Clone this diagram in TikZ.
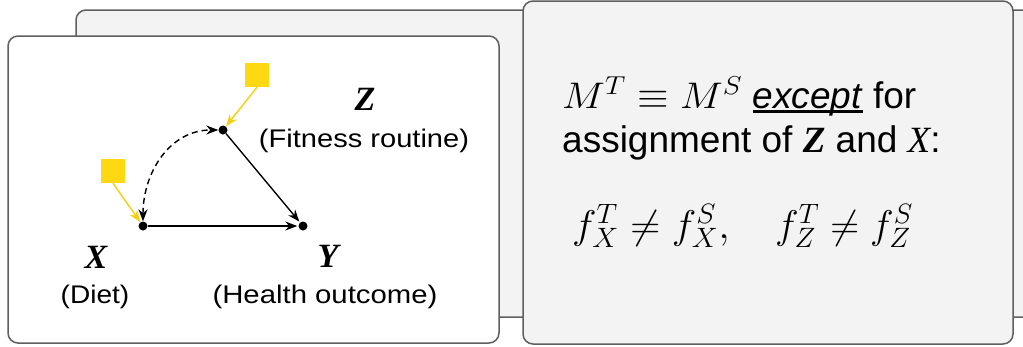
\RequirePackage{fix-cm}
\documentclass[tikz,border=0pt]{standalone}
\usepackage[no-math]{fontspec}
\setmainfont{Liberation Sans}
\newfontfamily\serifit{Liberation Serif}
\usetikzlibrary{arrows.meta}
\definecolor{cardborder}{HTML}{5F5F5F}
\definecolor{cardgray}{HTML}{F3F3F3}
\definecolor{ylw}{HTML}{FFD814}
\definecolor{ylwline}{HTML}{F4D010}
\newcommand\myul[1]{\setbox0\hbox{#1}\rlap{\rule[-4.5pt]{\wd0}{3pt}}\box0\relax}
\newcommand\wide[2]{\scalebox{#1}[1]{#2}}
\begin{document}
\begin{tikzpicture}[x=1pt,y=-1pt,
  card/.style={draw=cardborder,line width=1.5pt,rounded corners=10pt},
  dot/.style={circle,fill=black,inner sep=0pt,minimum size=9pt},
  sq/.style={fill=ylw,inner sep=0pt,minimum size=24pt},
  arr/.style={-{Stealth[length=12pt,width=9pt]},line width=1.4pt},
  edge/.style={arr,shorten >=1pt},
  yedge/.style={arr,draw=ylwline},
  lab/.style={font=\fontsize{25.5}{28}\selectfont,anchor=base,inner sep=0pt},
  var/.style={font=\serifit\bfseries\itshape\fontsize{34}{36}\selectfont,anchor=base,inner sep=0pt},
  txt/.style={font=\fontsize{37}{40}\selectfont,anchor=base west,inner sep=0pt}]
\useasboundingbox (0,0) rectangle (1023,346);
\fill[white] (0,0) rectangle (1023,346);
% cards
\draw[card,fill=cardgray] (76,10) rectangle (1045,317);
\draw[card,fill=white] (8,36) rectangle (499,343);
\draw[card,fill=cardgray] (523,1) rectangle (1013,344);
% graph nodes
\node[dot] (X) at (143,226) {};
\node[dot] (Y) at (303,226) {};
\node[dot] (Z) at (223,130) {};
\node[sq] (UZ) at (257,75) {};
\node[sq] (UX) at (113,171) {};
% edges
\draw[edge] (X) -- (Y);
\draw[edge] (Z) -- (Y);
\draw[line width=1.4pt,dash pattern=on 6pt off 4pt,{Stealth[length=12pt,width=9pt]}-{Stealth[length=12pt,width=9pt]}] (X) to[out=90,in=180,looseness=1.05] (Z);
\draw[yedge] (UZ.south) -- (Z);
\draw[yedge] (UX.south) -- (X);
% labels
\node[var] (zl) at (365,110) {Z};
\node[lab] (zd) at (364,147) {\wide{1.14}{(Fitness routine)}};
\node[var] (xl) at (96,268) {X};
\node[lab] (xd) at (95,303) {\wide{1.1}{(Diet)}};
\node[var] (yl) at (328,267) {Y};
\node[lab] (yd) at (325,303) {\wide{1.15}{(Health outcome)}};
% right card text
\node[txt] (l1) at (562,108) {\wide{1.1}{$M^T \equiv M^S$}\ \myul{\textit{except}} for};
\node[txt] (l2) at (562,152) {assignment of {\serifit\bfseries\itshape Z} and {\serifit\itshape X}:};
\node[txt,font=\fontsize{40}{44}\selectfont] (l3a) at (572,238) {\wide{1.04}{$f_X^T \neq f_X^S,$}};
\node[txt,font=\fontsize{40}{44}\selectfont] (l3b) at (775,238) {\wide{1.0}{$f_Z^T \neq f_Z^S$}};
\end{tikzpicture}
\end{document}
